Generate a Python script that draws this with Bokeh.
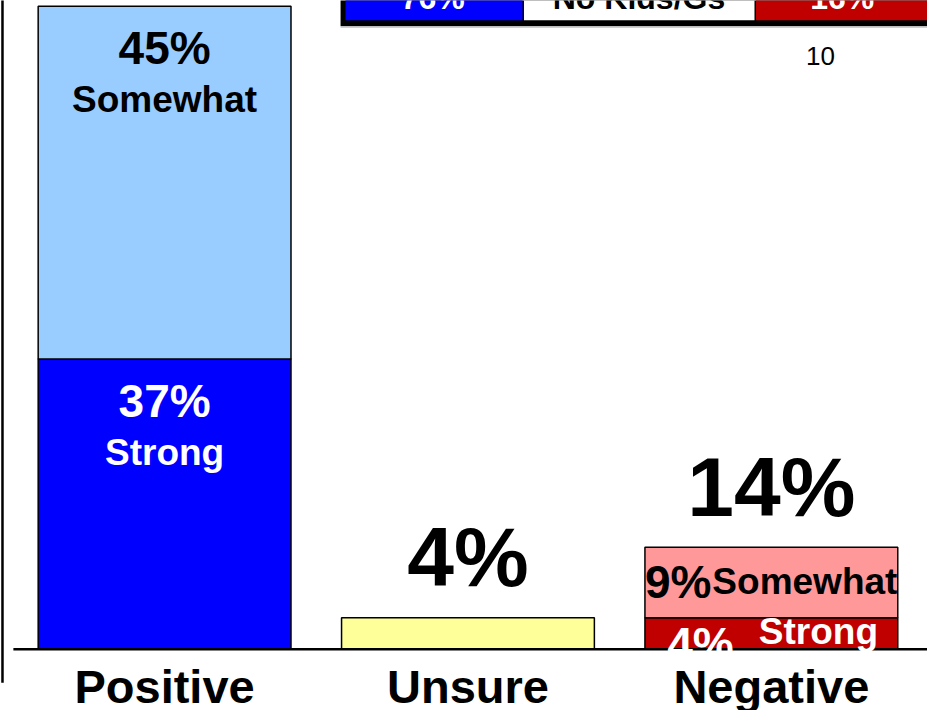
from bokeh.plotting import figure
from bokeh.models import Range1d
from bokeh.core.properties import value
from bokeh.embed import file_html
from bokeh.resources import INLINE

# ---- data ----
categories = ["Positive", "Unsure", "Negative"]
cat_x = [0, 1, 2]
strong = [37, 0, 4]
somewhat = [45, 0, 9]
unsure = [0, 4, 0]
total_labels = ["", "4%", "14%"]
table_labels = ["76%", "No Kids/Gs", "16%"]
page_number = "10"

FONT = "Liberation Sans"

# layout helpers (reference pixel -> data units); used for decoration/label placement only
def X(px):
    return (px - 165.5) / 306.0

def Y(py):
    return (656.0 - py) / 7.93

p = figure(width=927, height=710,
           x_range=Range1d(X(0), X(935)), y_range=Range1d(Y(718), Y(0)),
           output_backend="svg", toolbar_location=None, min_border=0,
           x_axis_type=None, y_axis_type=None)
p.grid.visible = False
p.outline_line_color = None
p.background_fill_color = "white"
p.border_fill_color = "white"

W = 255 / 306.0

# stacked bars
strong_top = [s for s in strong]
somewhat_top = [s + w for s, w in zip(strong, somewhat)]
p.vbar(x=[cat_x[0]], width=W, bottom=[0], top=[strong_top[0]],
       fill_color="#0000FF", line_color="black", line_width=1.5)
p.vbar(x=[cat_x[0]], width=W, bottom=[strong_top[0]], top=[somewhat_top[0]],
       fill_color="#99CCFF", line_color="black", line_width=1.5)
p.vbar(x=[cat_x[1]], width=W, bottom=[0], top=[unsure[1]],
       fill_color="#FFFF99", line_color="black", line_width=1.5)
p.vbar(x=[cat_x[2]], width=W, bottom=[0], top=[strong_top[2]],
       fill_color="#C00000", line_color="black", line_width=1.5)
p.vbar(x=[cat_x[2]], width=W, bottom=[strong_top[2]], top=[somewhat_top[2]],
       fill_color="#FF9999", line_color="black", line_width=1.5)

# partial table at top
p.quad(left=[X(343)], right=[X(980)], bottom=[Y(26)], top=[Y(-40)],
       fill_color="black", line_color=None)
p.quad(left=[X(348), X(528), X(762)], right=[X(526.5), X(760.5), X(980)],
       bottom=[Y(20)] * 3, top=[Y(-40)] * 3,
       fill_color=["#0000FF", "white", "#C00000"], line_color=None)
p.segment(x0=[X(343)], y0=[Y(27)], x1=[X(935)], y1=[Y(27)],
          line_color="#BBBBBB", line_width=1)
p.text(x=[X(436), X(644), X(849)], y=[Y(-3)] * 3, text=table_labels,
       text_font=value(FONT), text_font_style="bold", text_font_size="32px",
       text_color=["white", "black", "white"], text_align="center",
       text_baseline="alphabetic")

# page number
p.text(x=[X(827)], y=[Y(56)], text=[page_number], text_font=value(FONT),
       text_font_size="26px", text_color="black", text_align="center",
       text_baseline="middle")

# axis lines
p.segment(x0=[X(2)], y0=[Y(-10)], x1=[X(2)], y1=[Y(690)],
          line_color="black", line_width=2.5)
p.segment(x0=[X(13)], y0=[0], x1=[X(940)], y1=[0],
          line_color="black", line_width=2.5)

# positive bar labels
p.text(x=[cat_x[0], cat_x[0]], y=[somewhat_top[0] - 5.3, strong_top[0] - 5.3],
       text=[f"{somewhat[0]}%", f"{strong[0]}%"],
       text_color=["black", "white"], text_font=value(FONT), text_font_style="bold",
       text_font_size="46px", text_align="center", text_baseline="middle")
p.text(x=[cat_x[0], cat_x[0]], y=[somewhat_top[0] - 11.9, strong_top[0] - 11.9],
       text=["Somewhat", "Strong"],
       text_color=["black", "white"], text_font=value(FONT), text_font_style="bold",
       text_font_size="37px", text_align="center", text_baseline="middle")

# totals above unsure / negative
p.text(x=[cat_x[1], cat_x[2]], y=[unsure[1] + 7.7, somewhat_top[2] + 7.7],
       text=total_labels[1:], text_color="black", text_font=value(FONT),
       text_font_style="bold", text_font_size="84px", text_align="center",
       text_baseline="middle")

# negative bar labels
p.text(x=[X(717)], y=[(strong_top[2] + somewhat_top[2]) / 2 + 0.1],
       text=[f"{somewhat[2]}%"], text_color="black", text_font=value(FONT),
       text_font_style="bold", text_font_size="46px", text_align="right",
       text_baseline="middle")
p.text(x=[X(718)], y=[(strong_top[2] + somewhat_top[2]) / 2 + 0.1],
       text=["Somewhat"], text_color="black", text_font=value(FONT),
       text_font_style="bold", text_font_size="37px", text_align="left",
       text_baseline="middle")
p.text(x=[X(706)], y=[strong_top[2] / 2 - 1.3],
       text=[f"{strong[2]}%"], text_color="white", text_font=value(FONT),
       text_font_style="bold", text_font_size="46px", text_align="center",
       text_baseline="middle")
p.text(x=[X(825)], y=[strong_top[2] / 2 + 0.3],
       text=["Strong"], text_color="white", text_font=value(FONT),
       text_font_style="bold", text_font_size="37px", text_align="center",
       text_baseline="middle")

# category labels
p.text(x=cat_x, y=[Y(694)] * 3, text=categories, text_color="black",
       text_font=value(FONT), text_font_style="bold", text_font_size="47px",
       text_align="center", text_baseline="middle")

open("out.html", "w").write(file_html(p, INLINE))
